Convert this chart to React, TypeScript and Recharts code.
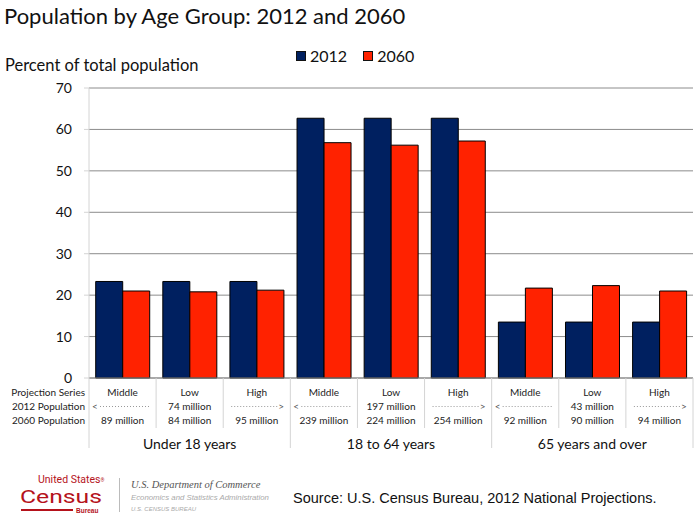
import React from "react";
import { BarChart, Bar, XAxis, YAxis, CartesianGrid, Legend } from "recharts";

// ---------- data ----------
const series = ["Middle", "Low", "High", "Middle", "Low", "High", "Middle", "Low", "High"];
const groups = ["Under 18 years", "18 to 64 years", "65 years and over"];
const values2012 = [23.3, 23.3, 23.3, 62.7, 62.7, 62.7, 13.5, 13.5, 13.5];
const values2060 = [21.0, 20.8, 21.2, 56.8, 56.2, 57.2, 21.7, 22.3, 21.0];
const pop2012 = ["<", "74 million", ">", "<", "197 million", ">", "<", "43 million", ">"];
const pop2060 = [
  "89 million", "84 million", "95 million",
  "239 million", "224 million", "254 million",
  "92 million", "90 million", "94 million",
];
const yTicks = [0, 10, 20, 30, 40, 50, 60, 70];
const rowLabels = ["Projection Series", "2012 Population", "2060 Population"];

const data = series.map((s, i) => ({
  name: `${s}-${i}`,
  series: s,
  group: groups[Math.floor(i / 3)],
  pop2012: pop2012[i],
  pop2060: pop2060[i],
  y2012: values2012[i],
  y2060: values2060[i],
}));

// ---------- layout ----------
const W = 698;
const H = 515;
const M_LEFT = 29;
const Y_W = 60;
const M_RIGHT = 5;
const PLOT_W = W - M_LEFT - Y_W - M_RIGHT;
const BAND = PLOT_W / data.length;
const BLUE = "#002060";
const RED = "#FF2200";
const FONT = "Lato, 'Open Sans', sans-serif";
const LINE = "#d4d4d4";
const CENSUS_RED = "#b5121b";

const XTick = (props: any) => {
  const { x, y, payload } = props;
  const i: number = payload.index;
  const d = data[i];
  const left = x - BAND / 2;
  const right = x + BAND / 2;
  const isGroupStart = i % 3 === 0;
  const r1 = y + 18;
  const r2 = y + 32;
  const r3 = y + 46;
  let pop12: React.ReactNode = null;
  if (d.pop2012 === "<") {
    pop12 = (
      <g>
        <text x={left + 3} y={r2} fontSize={10} fill="#555" fontFamily={FONT}>{"<"}</text>
        <line x1={left + 11} x2={right - 6} y1={r2 - 3.5} y2={r2 - 3.5} stroke="#999" strokeDasharray="1 2" />
      </g>
    );
  } else if (d.pop2012 === ">") {
    pop12 = (
      <g>
        <line x1={left + 8} x2={right - 13} y1={r2 - 3.5} y2={r2 - 3.5} stroke="#999" strokeDasharray="1 2" />
        <text x={right - 12} y={r2} fontSize={10} fill="#555" fontFamily={FONT}>{">"}</text>
      </g>
    );
  } else {
    pop12 = (
      <text x={x} y={r2} textAnchor="middle" fontSize={10} fill="#222" fontFamily={FONT}>{d.pop2012}</text>
    );
  }
  return (
    <g>
      <line x1={left} x2={left} y1={y} y2={isGroupStart ? y + 70 : y + 50} stroke={LINE} />
      {i === data.length - 1 && <line x1={right} x2={right} y1={y} y2={y + 70} stroke={LINE} />}
      {i === 0 &&
        rowLabels.map((l, k) => (
          <text key={l} x={left - 4} y={r1 + k * 14} textAnchor="end" fontSize={10} fill="#222" fontFamily={FONT}>
            {l}
          </text>
        ))}
      <text x={x} y={r1} textAnchor="middle" fontSize={10} fill="#222" fontFamily={FONT}>{d.series}</text>
      {pop12}
      <text x={x} y={r3} textAnchor="middle" fontSize={10} fill="#222" fontFamily={FONT}>{d.pop2060}</text>
      {i % 3 === 1 && (
        <text x={x} y={y + 71} textAnchor="middle" fontSize={14} fill="#111" fontFamily={FONT}>{d.group}</text>
      )}
    </g>
  );
};

const LegendContent = (props: any) => {
  const { payload } = props;
  return (
    <div style={{ display: "flex", alignItems: "center", fontFamily: FONT, fontSize: 16, color: "#111" }}>
      {(payload || []).map((p: any) => (
        <div key={p.value} style={{ display: "flex", alignItems: "center", marginRight: 16 }}>
          <span
            style={{
              display: "inline-block",
              width: 8,
              height: 8,
              background: p.color,
              border: "1px solid #111",
              marginRight: 4,
            }}
          />
          <span>{p.value}</span>
        </div>
      ))}
    </div>
  );
};

export default function App() {
  return (
    <div style={{ position: "absolute", left: 0, top: 0, width: W, height: H, background: "#fff", overflow: "hidden" }}>
      <div style={{ position: "absolute", left: 4, top: 3, fontFamily: FONT, fontSize: 22, lineHeight: "26px", color: "#111" }}>
        Population by Age Group: 2012 and 2060
      </div>
      <div style={{ position: "absolute", left: 5, top: 55, fontFamily: FONT, fontSize: 16.5, lineHeight: "20px", color: "#111" }}>
        Percent of total population
      </div>
      <BarChart
        width={W}
        height={H}
        data={data}
        margin={{ top: 88, right: M_RIGHT, bottom: 57, left: M_LEFT }}
        barGap={0}
        barCategoryGap="10%"
      >
        <CartesianGrid vertical={false} stroke="#8c8c8c" />
        <XAxis
          dataKey="name"
          axisLine={{ stroke: "#8c8c8c" }}
          tickLine={false}
          tickSize={0}
          tickMargin={0}
          height={80}
          interval={0}
          tick={<XTick />}
        />
        <YAxis
          domain={[0, 70]}
          ticks={yTicks}
          width={Y_W}
          axisLine={{ stroke: LINE }}
          tickLine={{ stroke: LINE }}
          tickSize={5}
          tickMargin={12}
          tick={{ fontFamily: FONT, fontSize: 14, fill: "#111" }}
          interval={0}
        />
        <YAxis yAxisId="r" orientation="right" width={0} axisLine={{ stroke: "#e6e6e6" }} tick={false} tickLine={false} />
        <Legend
          verticalAlign="middle"
          align="center"
          layout="horizontal"
          content={<LegendContent />}
          wrapperStyle={{ top: 46, left: 296, width: 200, height: 22 }}
        />
        <Bar dataKey="y2012" name="2012" fill={BLUE} stroke="#000" strokeWidth={1} isAnimationActive={false} />
        <Bar dataKey="y2060" name="2060" fill={RED} stroke="#000" strokeWidth={1} isAnimationActive={false} />
      </BarChart>
      {/* footer: Census logo */}
      <div style={{ position: "absolute", left: 38, top: 474.6, fontFamily: "'Liberation Sans Narrow', 'Roboto', sans-serif", fontSize: 10.5, color: CENSUS_RED, lineHeight: "10.5px", whiteSpace: "nowrap" }}>
        United States<span style={{ fontSize: 5, verticalAlign: "top" }}>®</span>
      </div>
      <div style={{ position: "absolute", left: 20, top: 487, fontFamily: "'Liberation Sans Narrow', 'Roboto', sans-serif", fontSize: 19, color: CENSUS_RED, lineHeight: "19px", transform: "scaleX(1.3)", transformOrigin: "left", whiteSpace: "nowrap" }}>
        Census
      </div>
      <div style={{ position: "absolute", left: 21, top: 509, width: 52, height: 2, background: CENSUS_RED }} />
      <div style={{ position: "absolute", left: 76, top: 507.8, fontFamily: "'Liberation Sans', sans-serif", fontSize: 6.5, color: CENSUS_RED, lineHeight: "6.5px", fontWeight: 700, whiteSpace: "nowrap" }}>
        Bureau
      </div>
      <div style={{ position: "absolute", left: 119, top: 478, width: 1, height: 34, background: "#bbb" }} />
      <div style={{ position: "absolute", left: 131, top: 480, fontFamily: "'Liberation Serif', serif", fontStyle: "italic", fontSize: 10.5, color: "#555", lineHeight: "10px", whiteSpace: "nowrap" }}>
        U.S. Department of Commerce
      </div>
      <div style={{ position: "absolute", left: 131, top: 493, fontFamily: "'Liberation Sans', sans-serif", fontStyle: "italic", fontSize: 7.8, color: "#aaa", lineHeight: "10px", whiteSpace: "nowrap" }}>
        Economics and Statistics Administration
      </div>
      <div style={{ position: "absolute", left: 131, top: 503.5, fontFamily: "'Liberation Sans', sans-serif", fontStyle: "italic", fontSize: 6, color: "#aaa", lineHeight: "10px", whiteSpace: "nowrap" }}>
        U.S. CENSUS BUREAU
      </div>
      <div style={{ position: "absolute", left: 293, top: 490, fontFamily: "'Liberation Sans', Arial, sans-serif", fontSize: 14.5, color: "#111", lineHeight: "17px", whiteSpace: "nowrap" }}>
        Source: U.S. Census Bureau, 2012 National Projections.
      </div>
    </div>
  );
}
